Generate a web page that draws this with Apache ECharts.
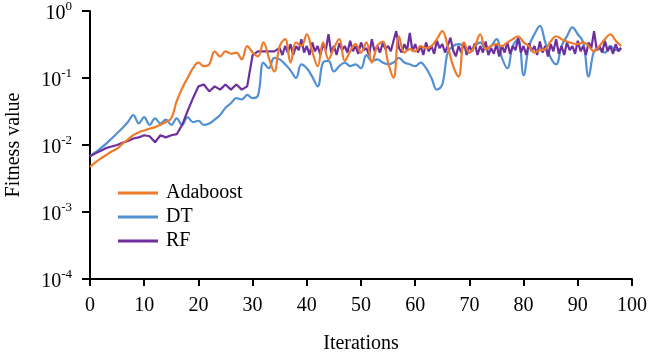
<!DOCTYPE html>
<html>
<head>
<meta charset="utf-8">
<script src="https://cdn.jsdelivr.net/npm/echarts@6/dist/echarts.min.js"></script>
<style>
html, body { margin: 0; padding: 0; background: #fff; }
#chart { width: 654px; height: 352px; }
</style>
</head>
<body>
<div id="chart"></div>
<script>
// iterations 0..98 for Adaboost and DT
var adaboost = [
	0.0047, 0.0055, 0.0063, 0.0071, 0.008, 0.0088, 0.0105, 0.012, 0.014, 0.0155,
	0.0165, 0.0175, 0.0185, 0.02, 0.022, 0.025, 0.045, 0.07, 0.1, 0.14,
	0.17, 0.15, 0.16, 0.25, 0.21, 0.25, 0.23, 0.24, 0.19, 0.3,
	0.24, 0.21, 0.34, 0.2, 0.125, 0.3, 0.38, 0.17, 0.34, 0.3,
	0.45, 0.25, 0.15, 0.34, 0.19, 0.28, 0.38, 0.18, 0.25, 0.32,
	0.24, 0.34, 0.17, 0.3, 0.35, 0.17, 0.1, 0.42, 0.24, 0.27,
	0.25, 0.3, 0.28, 0.3, 0.38, 0.5, 0.3, 0.15, 0.105, 0.34,
	0.24, 0.3, 0.45, 0.27, 0.3, 0.32, 0.3, 0.34, 0.38, 0.42,
	0.34, 0.3, 0.24, 0.26, 0.27, 0.35, 0.42, 0.38, 0.35, 0.33,
	0.32, 0.34, 0.3, 0.25, 0.3, 0.38, 0.45, 0.36, 0.3
];
var dt = [
	0.0068, 0.0078, 0.009, 0.0105, 0.0125, 0.015, 0.018, 0.022, 0.028, 0.021,
	0.026, 0.02, 0.025, 0.021, 0.024, 0.02, 0.025, 0.02, 0.026, 0.022,
	0.023, 0.02, 0.021, 0.024, 0.028, 0.036, 0.042, 0.05, 0.048, 0.056,
	0.05, 0.055, 0.17, 0.14, 0.2, 0.19, 0.16, 0.13, 0.1, 0.16,
	0.14, 0.105, 0.075, 0.17, 0.18, 0.125, 0.15, 0.17, 0.15, 0.16,
	0.14, 0.22, 0.18, 0.19, 0.17, 0.16, 0.17, 0.2, 0.17, 0.16,
	0.15, 0.17, 0.14, 0.1, 0.067, 0.08, 0.24, 0.3, 0.32, 0.3,
	0.24, 0.3, 0.34, 0.27, 0.3, 0.38, 0.2, 0.14, 0.3, 0.38,
	0.11, 0.3, 0.45, 0.6, 0.34, 0.2, 0.16, 0.3, 0.42, 0.57,
	0.45, 0.34, 0.105, 0.25, 0.27, 0.24, 0.3, 0.26, 0.28
];
// RF: one point per iteration 0..34, then half steps 35..98
var rfHead = [
	0.0068, 0.0075, 0.0082, 0.009, 0.0095, 0.01, 0.0108, 0.0115, 0.0125, 0.013,
	0.014, 0.0135, 0.011, 0.014, 0.013, 0.014, 0.0145, 0.02, 0.032, 0.05,
	0.075, 0.08, 0.063, 0.075, 0.067, 0.08, 0.067, 0.08, 0.067, 0.075,
	0.22, 0.25, 0.25, 0.25, 0.25
];
var rfTail = [
	0.28, 0.22, 0.3, 0.24, 0.32, 0.22, 0.3, 0.26, 0.38, 0.24,
	0.3, 0.22, 0.34, 0.25, 0.3, 0.22, 0.32, 0.26, 0.45, 0.24,
	0.3, 0.22, 0.33, 0.26, 0.3, 0.24, 0.36, 0.25, 0.3, 0.23,
	0.34, 0.26, 0.28, 0.22, 0.38, 0.25, 0.3, 0.24, 0.33, 0.27,
	0.3, 0.25, 0.36, 0.5, 0.28, 0.24, 0.32, 0.26, 0.47, 0.25,
	0.32, 0.24, 0.3, 0.22, 0.34, 0.25, 0.3, 0.23, 0.36, 0.28,
	0.32, 0.24, 0.3, 0.4, 0.26, 0.21, 0.3, 0.24, 0.34, 0.22,
	0.3, 0.25, 0.33, 0.22, 0.3, 0.24, 0.35, 0.22, 0.28, 0.23,
	0.32, 0.21, 0.3, 0.24, 0.34, 0.23, 0.3, 0.26, 0.4, 0.24,
	0.3, 0.22, 0.33, 0.25, 0.3, 0.22, 0.35, 0.24, 0.3, 0.21,
	0.32, 0.25, 0.38, 0.23, 0.3, 0.22, 0.34, 0.26, 0.3, 0.23,
	0.36, 0.25, 0.3, 0.22, 0.34, 0.28, 0.5, 0.26, 0.3, 0.24,
	0.36, 0.25, 0.3, 0.23, 0.32, 0.25,
	0.28
];
var seriesNames = ['Adaboost', 'DT', 'RF'];
var colors = { Adaboost: '#EE7A2A', DT: '#5290D4', RF: '#6E2F9E' };

var adaData = adaboost.map(function (v, i) { return [i, v]; });
var dtData = dt.map(function (v, i) { return [i, v]; });
var rfData = rfHead.map(function (v, i) { return [i, v]; });
rfTail.forEach(function (v, i) { rfData.push([35 + i * 0.5, v]); });

var font = '"Liberation Serif", "Times New Roman", serif';
var myCharts = echarts.init(document.getElementById('chart'));
var option = {
	animation: false,
	grid: {
		left: 90,
		right: 22,
		top: 11,
		bottom: 73,
		containLabel: false,
		outerBoundsMode: 'none'
	},
	legend: {
		orient: 'vertical',
		left: 113,
		top: 178,
		itemWidth: 40,
		itemHeight: 3,
		itemGap: 4,
		icon: 'rect',
		data: seriesNames,
		textStyle: {
			color: '#000',
			fontFamily: font,
			fontSize: 20,
			padding: [0, 0, 0, 3]
		}
	},
	xAxis: {
		type: 'value',
		min: 0,
		max: 100,
		interval: 10,
		name: 'Iterations',
		nameLocation: 'middle',
		nameGap: 55,
		nameTextStyle: { color: '#000', fontFamily: font, fontSize: 20 },
		axisLine: { show: true, lineStyle: { color: '#000', width: 2 } },
		axisTick: { show: true, length: 7, lineStyle: { color: '#000', width: 2 } },
		splitLine: { show: false },
		axisLabel: {
			margin: 17,
			color: '#000',
			fontFamily: font,
			fontSize: 20
		}
	},
	yAxis: {
		type: 'log',
		logBase: 10,
		min: 0.0001,
		max: 1,
		name: 'Fitness value',
		nameLocation: 'middle',
		nameGap: 66,
		nameTextStyle: { color: '#000', fontFamily: font, fontSize: 20 },
		axisLine: { show: true, lineStyle: { color: '#000', width: 2 } },
		axisTick: { show: true, length: 8, lineStyle: { color: '#000', width: 2 } },
		splitLine: { show: false },
		axisLabel: {
			margin: 18,
			color: '#000',
			fontFamily: font,
			fontSize: 20,
			formatter: function (v) {
				var e = Math.round(Math.log(v) / Math.LN10);
				return '{base|10}{sup|' + e + '}';
			},
			rich: {
				base: {
					fontFamily: font,
					fontSize: 20,
					color: '#000',
					padding: [6, 0, 0, 0]
				},
				sup: {
					fontFamily: font,
					fontSize: 13,
					color: '#000',
					padding: [0, 0, 8, 0]
				}
			}
		}
	},
	series: [
		{
			name: 'DT',
			type: 'line',
			data: dtData,
			smooth: 0.4,
			showSymbol: false,
			lineStyle: { width: 2.2, color: colors.DT },
			itemStyle: { color: colors.DT }
		},
		{
			name: 'RF',
			type: 'line',
			data: rfData,
			smooth: false,
			showSymbol: false,
			lineStyle: { width: 2.2, color: colors.RF },
			itemStyle: { color: colors.RF }
		},
		{
			name: 'Adaboost',
			type: 'line',
			data: adaData,
			smooth: 0.4,
			showSymbol: false,
			lineStyle: { width: 2.2, color: colors.Adaboost },
			itemStyle: { color: colors.Adaboost }
		}
	]
};
myCharts.setOption(option);
window.onresize = function () {
	myCharts.resize();
};
</script>
</body>
</html>
